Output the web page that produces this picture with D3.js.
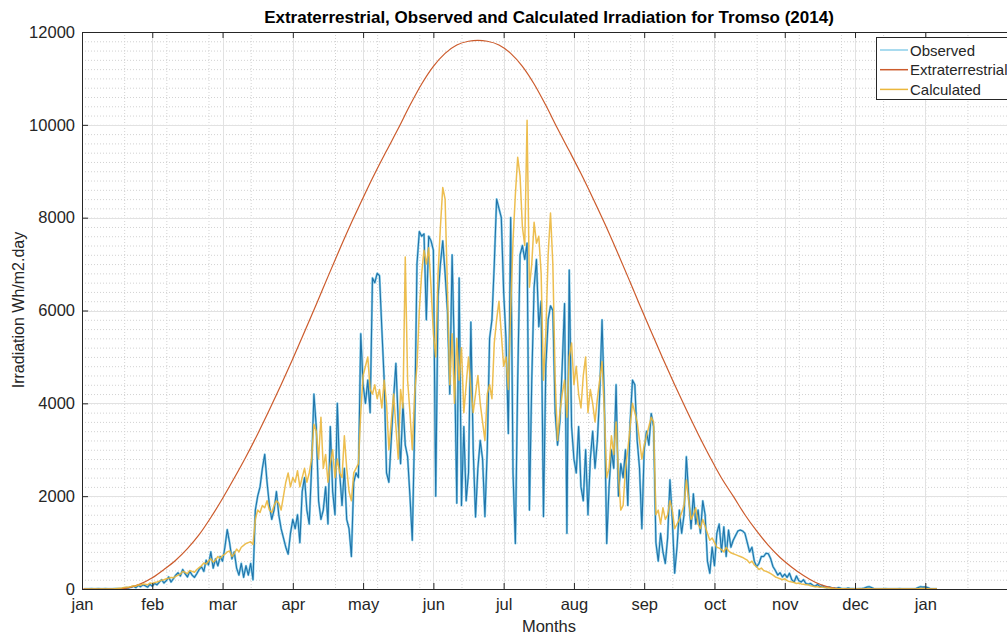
<!DOCTYPE html>
<html>
<head>
<meta charset="utf-8">
<script src="https://cdn.jsdelivr.net/npm/d3@7"></script>
<style>
  body { margin: 0; background: #fff; }
  svg text { font-family: "Liberation Sans", Arial, Helvetica, sans-serif; }
</style>
</head>
<body>
<svg id="chart" width="1007" height="635"></svg>
<script>
// Month tick positions (day of year) and their labels
const monthTicks = [0, 30, 60, 90, 120, 150, 180, 210, 240, 270, 300, 330, 360];
const monthLabels = ["jan", "feb", "mar", "apr", "may", "jun", "jul", "aug", "sep", "oct", "nov", "dec", "jan"];
const yTicks = [0, 2000, 4000, 6000, 8000, 10000, 12000];

// Extraterrestrial daily irradiation (Wh/m2.day), sampled along the year
const extraDays = [0, 10, 15, 20, 25, 30, 35, 40, 45, 50, 55, 60, 65, 70, 75, 80, 85, 90, 95, 100,
  105, 110, 115, 120, 125, 130, 135, 140, 145, 150, 155, 160, 165, 169,
  173, 178, 183, 188, 193, 198, 203, 208, 213, 218, 223, 228, 233, 238, 243, 248, 253, 258, 263, 268,
  273, 278, 283, 288, 293, 298, 303, 308, 313, 318, 323, 328, 345, 365];
const extraValues = [0, 0, 0, 30, 110, 240, 420, 620, 870, 1170, 1540, 1950, 2390, 2850, 3340, 3860, 4400, 4960, 5540, 6130,
  6730, 7320, 7890, 8430, 8950, 9440, 9920, 10420, 10880, 11260, 11540, 11720, 11800, 11820,
  11800, 11720, 11540, 11260, 10880, 10420, 9920, 9440, 8950, 8430, 7890, 7320, 6730, 6130, 5540, 4960, 4400, 3860, 3340, 2850,
  2390, 2000, 1600, 1250, 940, 680, 470, 290, 145, 50, 8, 0, 0, 0];

// Observed daily irradiation, days 1..365
const observed = [
  0, 0, 0, 5, 0, 0, 10, 0, 0, 5,
  0, 0, 0, 5, 10, 5, 10, 20, 30, 25,
  40, 60, 30, 80, 50, 90, 70, 40, 100, 60,
  120, 90, 150, 200, 130, 180, 260, 150, 220, 300,
  350, 280, 420, 330, 260, 380, 300, 250, 330, 420,
  480, 380, 620, 520, 800, 450, 650, 500, 700, 600,
  900, 1280, 1000, 650, 800, 450, 300, 550, 250, 500,
  300, 550, 200, 1700, 2000, 2200, 2600, 2900, 2300, 1800,
  1500, 1700, 2100, 1600, 1300, 1100, 900, 750, 1200, 1500,
  1300, 1600, 1000, 2100, 2400, 1700, 1400, 2600, 4200, 3500,
  1900, 1500, 1700, 2200, 1400, 3500, 2100, 1600, 4000, 2500,
  1800, 2600, 1500, 1300, 700, 2300, 2500, 2400, 5500, 4400,
  4000, 4500, 3800, 6700, 6600, 6800, 6750, 5600, 4500, 2500,
  2300, 3200, 4100, 4860, 3600, 2700, 4000, 3100, 2850, 2000,
  1050, 3500, 7000, 7700, 7600, 7650, 5800, 7600, 7500, 7300,
  2000, 6300, 7000, 7500, 6800, 6000, 4200, 7200, 5000, 1850,
  6700, 1800, 3500, 1900, 2500, 5750, 3000, 1550, 2600, 3200,
  2800, 1560, 3000, 5400, 5800, 7000, 8400, 8200, 8000, 6400,
  5400, 3350, 8000, 2500, 980, 4500, 7200, 7400, 7100, 7450,
  1700, 4500, 6500, 7100, 5650, 6200, 1560, 4800, 5800, 6100,
  6000, 3800, 3100, 3600, 4800, 6150, 1200, 6870, 3500, 2800,
  2500, 3500, 2200, 1900, 3000, 1600, 2800, 3400, 2600, 3200,
  4200, 5800, 4000, 980, 2200, 3000, 2600, 4400, 2000, 2700,
  2400, 3000, 1800, 3600, 4500, 4400, 3200, 2600, 1300, 3000,
  3400, 3100, 3780, 3500, 1000, 600, 1200, 800, 550, 1100,
  2350, 1500, 340, 900, 1700, 1200, 1600, 2850, 2000, 1300,
  2050, 1400, 1700, 1200, 1900, 1600, 600, 340, 900, 500,
  1200, 1400, 800, 1340, 700, 1270, 900, 1050, 1150, 1250,
  1270, 1250, 1200, 1000, 800, 900, 600, 480, 550, 700,
  700, 770, 760, 650, 480, 400, 300, 350, 260, 320,
  250, 340, 200, 150, 280, 180, 150, 200, 120, 100,
  120, 80, 60, 100, 50, 70, 40, 30, 40, 25,
  20, 10, 30, 15, 10, 5, 20, 10, 5, 0,
  0, 5, 10, 20, 40, 50, 30, 10, 0, 0,
  0, 0, 5, 0, 0, 0, 0, 0, 5, 0,
  0, 0, 0, 0, 0, 10, 30, 50, 40, 45,
  30, 10, 0, 0, 0
];

// Calculated daily irradiation, days 1..365
const calculated = [
  0, 0, 0, 0, 0, 0, 0, 0, 0, 0,
  0, 0, 0, 5, 10, 15, 20, 30, 40, 45,
  55, 70, 60, 90, 80, 110, 100, 90, 130, 120,
  140, 150, 170, 190, 200, 220, 230, 250, 240, 270,
  300, 320, 380, 360, 330, 400, 380, 360, 420, 460,
  500, 560, 540, 600, 650, 580, 620, 700, 660, 720,
  750, 800, 820, 700, 760, 860, 800, 900, 940, 980,
  1000, 1020, 960, 1500, 1700, 1650, 1800, 1750, 1900, 1700,
  1650, 1800, 1900, 1850, 1700, 2000, 2300, 2500, 2200, 2400,
  2300, 2550, 2200, 2400, 2600, 2300, 2500, 2800, 3550, 3400,
  2800, 3700, 2600, 2900, 2300, 2700, 3000, 2400, 2800, 2500,
  2400, 3300, 2600, 2100, 1900, 2500, 2600, 2700, 3800, 4600,
  4800, 5000, 4300, 4200, 4400, 4100, 4300, 3900, 4500, 4000,
  3000, 3600, 4200, 3500, 2800, 4300, 3900, 7150, 4500, 3800,
  3000, 4200, 4800, 6000, 6800, 7300, 7000, 7350, 6500, 5500,
  5000, 6800, 7800, 8650, 8400, 6500, 4400, 5500, 4000, 5400,
  4500, 5200, 3800, 4400, 5000, 4300, 3800, 4200, 4600, 4000,
  3600, 3200, 4200, 4400, 4100, 5300, 5800, 6200, 5500, 4800,
  5000, 4300, 6000, 7500, 8500, 9300, 8900, 7800, 7400, 10100,
  6500, 7000, 7900, 7450, 7600, 6800, 4500, 5500, 7200, 8100,
  7000, 4500, 3200, 3800, 4200, 4500, 3700, 5000, 5300, 4400,
  4800, 4200, 3900, 4600, 5000, 3800, 4300, 4000, 3600, 4100,
  4500, 4900, 3800, 2400, 2600, 3300, 2900, 3600, 2500, 1700,
  1800, 2600, 3000, 3500, 4000, 3800, 3600, 3200, 2800, 3100,
  3300, 3500, 3700, 3600, 1600, 1700, 1400, 1750, 1500, 1600,
  1900, 1700, 1300, 1400, 1500, 1650, 1800, 2350, 1900, 1500,
  1600, 1750, 1400, 1300, 1500, 1350, 1200, 1050, 1100, 1000,
  900, 880, 850, 800, 900, 820, 780, 760, 740, 720,
  700, 680, 650, 620, 560, 600, 520, 480, 420, 450,
  400, 380, 360, 330, 300, 260, 240, 220, 200, 220,
  180, 160, 150, 140, 120, 130, 110, 100, 90, 90,
  70, 60, 50, 50, 40, 40, 30, 25, 20, 15,
  10, 8, 5, 5, 3, 2, 0, 0, 0, 0,
  0, 0, 0, 0, 5, 5, 0, 0, 0, 0,
  0, 0, 0, 0, 0, 0, 0, 0, 0, 0,
  0, 0, 0, 0, 0, 0, 5, 10, 10, 10,
  5, 0, 0, 0, 0
];

const seriesNames = ["Observed", "Extraterrestrial", "Calculated"];
const seriesColors = { Observed: "#2074aa", ObservedHalo: "#8ccfea", Extraterrestrial: "#cc5b2c", Calculated: "#ebb73c" };

const svg = d3.select("#chart");
const plot = { left: 82, top: 32, right: 1019, bottom: 589 };

const x = d3.scaleLinear().domain([0, 400]).range([plot.left, plot.right]);
const y = d3.scaleLinear().domain([0, 12000]).range([plot.bottom, plot.top]);

svg.append("defs").append("clipPath").attr("id", "plot-clip")
  .append("rect")
  .attr("x", plot.left).attr("y", plot.top)
  .attr("width", plot.right - plot.left).attr("height", plot.bottom - plot.top);

// Grid: dotted minor lines, then solid major lines
const grid = svg.append("g").attr("clip-path", "url(#plot-clip)");
grid.selectAll("line.ymin").data(d3.range(0, 12001, 200)).join("line")
  .attr("x1", plot.left).attr("x2", plot.right)
  .attr("y1", d => y(d) + 0.5).attr("y2", d => y(d) + 0.5)
  .attr("stroke", "#d2d2d2").attr("stroke-dasharray", "1,2").attr("stroke-width", 1);
grid.selectAll("line.xmin").data(d3.range(0, 401, 18)).join("line")
  .attr("y1", plot.top).attr("y2", plot.bottom)
  .attr("x1", d => x(d) + 0.5).attr("x2", d => x(d) + 0.5)
  .attr("stroke", "#d2d2d2").attr("stroke-dasharray", "1,2").attr("stroke-width", 1);
grid.selectAll("line.ymaj").data(yTicks).join("line")
  .attr("x1", plot.left).attr("x2", plot.right)
  .attr("y1", d => Math.round(y(d)) + 0.5).attr("y2", d => Math.round(y(d)) + 0.5)
  .attr("stroke", "#e2e2e2").attr("stroke-width", 1);
grid.selectAll("line.xmaj").data(monthTicks).join("line")
  .attr("y1", plot.top).attr("y2", plot.bottom)
  .attr("x1", d => Math.round(x(d)) + 0.5).attr("x2", d => Math.round(x(d)) + 0.5)
  .attr("stroke", "#e2e2e2").attr("stroke-width", 1);

// Series
const days = d3.range(1, 366);
const dailyLine = d3.line().x((d, i) => x(days[i])).y(d => y(d));
const lines = svg.append("g").attr("clip-path", "url(#plot-clip)").attr("fill", "none")
  .attr("stroke-linejoin", "round");

lines.append("path").datum(observed).attr("d", dailyLine)
  .attr("stroke", seriesColors.ObservedHalo).attr("stroke-width", 2.3);
lines.append("path").datum(observed).attr("d", dailyLine)
  .attr("stroke", seriesColors.Observed).attr("stroke-width", 1.1);

const extraLine = d3.line().curve(d3.curveMonotoneX)
  .x((d, i) => x(extraDays[i])).y(d => y(d));
lines.append("path").datum(extraValues).attr("d", extraLine)
  .attr("stroke", seriesColors.Extraterrestrial).attr("stroke-width", 1.2);

lines.append("path").datum(calculated).attr("d", dailyLine)
  .attr("stroke", seriesColors.Calculated).attr("stroke-width", 1.5).attr("stroke-opacity", 0.9);

// Axes
const axisColor = "#262626";
const fontSize = "16.5px";

const yAxis = svg.append("g").attr("transform", `translate(${plot.left},0)`)
  .call(d3.axisLeft(y).tickValues(yTicks).tickFormat(d3.format("d"))
    .tickSizeInner(-6).tickSizeOuter(0).tickPadding(7));
const xAxis = svg.append("g").attr("transform", `translate(0,${plot.bottom})`)
  .call(d3.axisBottom(x).tickValues(monthTicks).tickFormat((d, i) => monthLabels[i])
    .tickSizeInner(-6).tickSizeOuter(0).tickPadding(9));
const topAxis = svg.append("g").attr("transform", `translate(0,${plot.top})`)
  .call(d3.axisTop(x).tickValues(monthTicks).tickFormat("").tickSizeInner(-6).tickSizeOuter(0));

[yAxis, xAxis, topAxis].forEach(g => {
  g.select(".domain").attr("stroke", axisColor);
  g.selectAll(".tick line").attr("stroke", axisColor);
  g.selectAll(".tick text").attr("fill", axisColor)
    .style("font-size", fontSize).style("font-family", '"Liberation Sans", Arial, sans-serif');
});

// Title and axis labels
svg.append("text").attr("x", 549).attr("y", 23).attr("text-anchor", "middle")
  .style("font-size", "17px").style("font-weight", "bold").attr("fill", "#000")
  .text("Extraterrestrial, Observed and Calculated Irradiation for Tromso (2014)");
svg.append("text").attr("x", 549).attr("y", 632).attr("text-anchor", "middle")
  .style("font-size", "16.5px").attr("fill", axisColor).text("Months");
svg.append("text").attr("transform", "translate(24,310) rotate(-90)").attr("text-anchor", "middle")
  .style("font-size", "16px").attr("fill", axisColor).text("Irradiation Wh/m2.day");

// Legend
const legend = svg.append("g");
legend.append("rect").attr("x", 876.5).attr("y", 37.5).attr("width", 160).attr("height", 62)
  .attr("fill", "#fff").attr("stroke", axisColor).attr("stroke-width", 1);
const legendColors = [seriesColors.ObservedHalo, seriesColors.Extraterrestrial, seriesColors.Calculated];
seriesNames.forEach((name, i) => {
  const cy = 50 + i * 19.7;
  legend.append("line").attr("x1", 880).attr("x2", 908).attr("y1", cy).attr("y2", cy)
    .attr("stroke", legendColors[i]).attr("stroke-width", 1.5);
  legend.append("text").attr("x", 910).attr("y", cy).attr("dominant-baseline", "central")
    .style("font-size", "15px").attr("fill", axisColor).text(name);
});
</script>
</body>
</html>
